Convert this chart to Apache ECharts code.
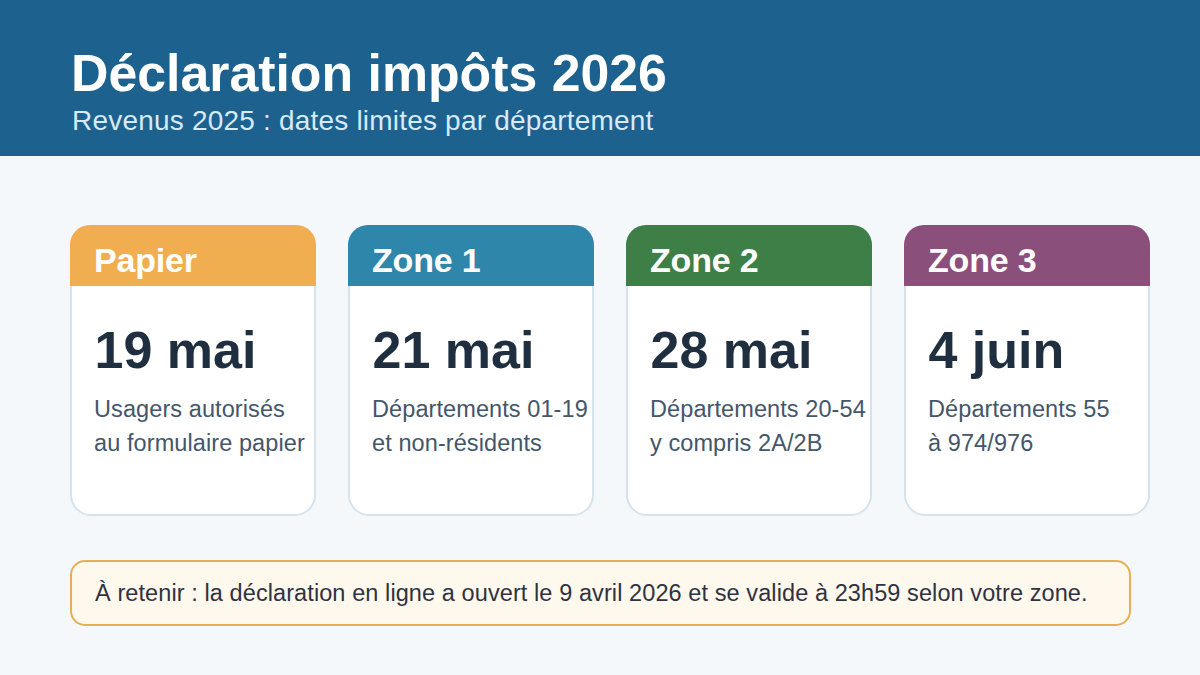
<!DOCTYPE html>
<html><head><meta charset="utf-8">
<style>html,body{margin:0;padding:0;background:#f4f8fb}#c{width:1200px;height:675px}
#c text{font-kerning:none}
#c text[style*="bold 52px"][x="71"],#c text[style*="28px"]{letter-spacing:.2px}
#c text[style*="34px"]{letter-spacing:-.2px}
#c text[style*="23.5px"]{letter-spacing:.09px}
</style>
<script src="https://cdn.jsdelivr.net/npm/echarts@6/dist/echarts.min.js"></script>
</head><body><div id="c"></div>
<script>
const titleText = 'Déclaration impôts 2026';
const subtitleText = 'Revenus 2025 : dates limites par département';
const categories = ['Papier', 'Zone 1', 'Zone 2', 'Zone 3'];
const dates = ['19 mai', '21 mai', '28 mai', '4 juin'];
const line1 = ['Usagers autorisés', 'Départements 01-19', 'Départements 20-54', 'Départements 55'];
const line2 = ['au formulaire papier', 'et non-résidents', 'y compris 2A/2B', 'à 974/976'];
const colors = ['#f0ae50', '#2e86ab', '#3d7f47', '#8b4f7c'];
const noteText = 'À retenir : la déclaration en ligne a ouvert le 9 avril 2026 et se valide à 23h59 selon votre zone.';
const FONT = '"Liberation Sans", Arial, sans-serif';

const chart = echarts.init(document.getElementById('c'), null, {renderer: 'svg'});
chart.setOption({
  animation: false,
  backgroundColor: '#f4f8fb',
  grid: {left: 54, right: 34, top: 225, bottom: 159},
  xAxis: {type: 'category', data: categories, show: false},
  yAxis: {type: 'value', min: 0, max: 1, show: false},
  graphic: [
    {type: 'rect', z: 1, shape: {x: 0, y: 0, width: 1200, height: 156}, style: {fill: '#1d618e'}},
    {type: 'text', z: 2, x: 71, y: 73, style: {text: titleText, fill: '#ffffff', font: 'bold 51.8px ' + FONT, textVerticalAlign: 'middle'}},
    {type: 'text', z: 2, x: 72, y: 120, style: {text: subtitleText, fill: '#d6eaf8', font: '28px ' + FONT, textVerticalAlign: 'middle'}},
    {type: 'rect', z: 1, shape: {x: 71, y: 561, width: 1059, height: 64, r: 14}, style: {fill: '#fff8ec', stroke: '#e8ae56', lineWidth: 2}},
    {type: 'text', z: 2, x: 95, y: 593, style: {text: noteText, fill: '#2f3242', font: '23.5px ' + FONT, textVerticalAlign: 'middle'}}
  ],
  series: [{
    type: 'custom',
    coordinateSystem: 'cartesian2d',
    silent: true,
    clip: false,
    data: categories.map((c, i) => [i, 1]),
    encode: {x: 0, y: 1},
    renderItem(params, api) {
      const i = api.value(0);
      const p = api.coord([i, 1]);
      const left = p[0] - 123, top = p[1];
      const tx = left + 24;
      return {type: 'group', children: [
        {type: 'rect', shape: {x: left + 1, y: top + 1, width: 244, height: 289, r: 20},
          style: {fill: '#ffffff', stroke: '#d5e3ec', lineWidth: 2}},
        {type: 'rect', shape: {x: left, y: top, width: 246, height: 61, r: [20, 20, 0, 0]},
          style: {fill: colors[i]}},
        {type: 'text', x: tx, y: top + 35, style: {text: categories[i], fill: '#ffffff', font: 'bold 34px ' + FONT, textVerticalAlign: 'middle'}},
        {type: 'text', x: tx + 0.5, y: top + 125, style: {text: dates[i], fill: '#1f2f3f', font: 'bold 52px ' + FONT, textVerticalAlign: 'middle'}},
        {type: 'text', x: tx, y: top + 184, style: {text: line1[i], fill: '#44566a', font: '23.5px ' + FONT, textVerticalAlign: 'middle'}},
        {type: 'text', x: tx, y: top + 218, style: {text: line2[i], fill: '#44566a', font: '23.5px ' + FONT, textVerticalAlign: 'middle'}}
      ]};
    }
  }]
});
</script></body></html>
